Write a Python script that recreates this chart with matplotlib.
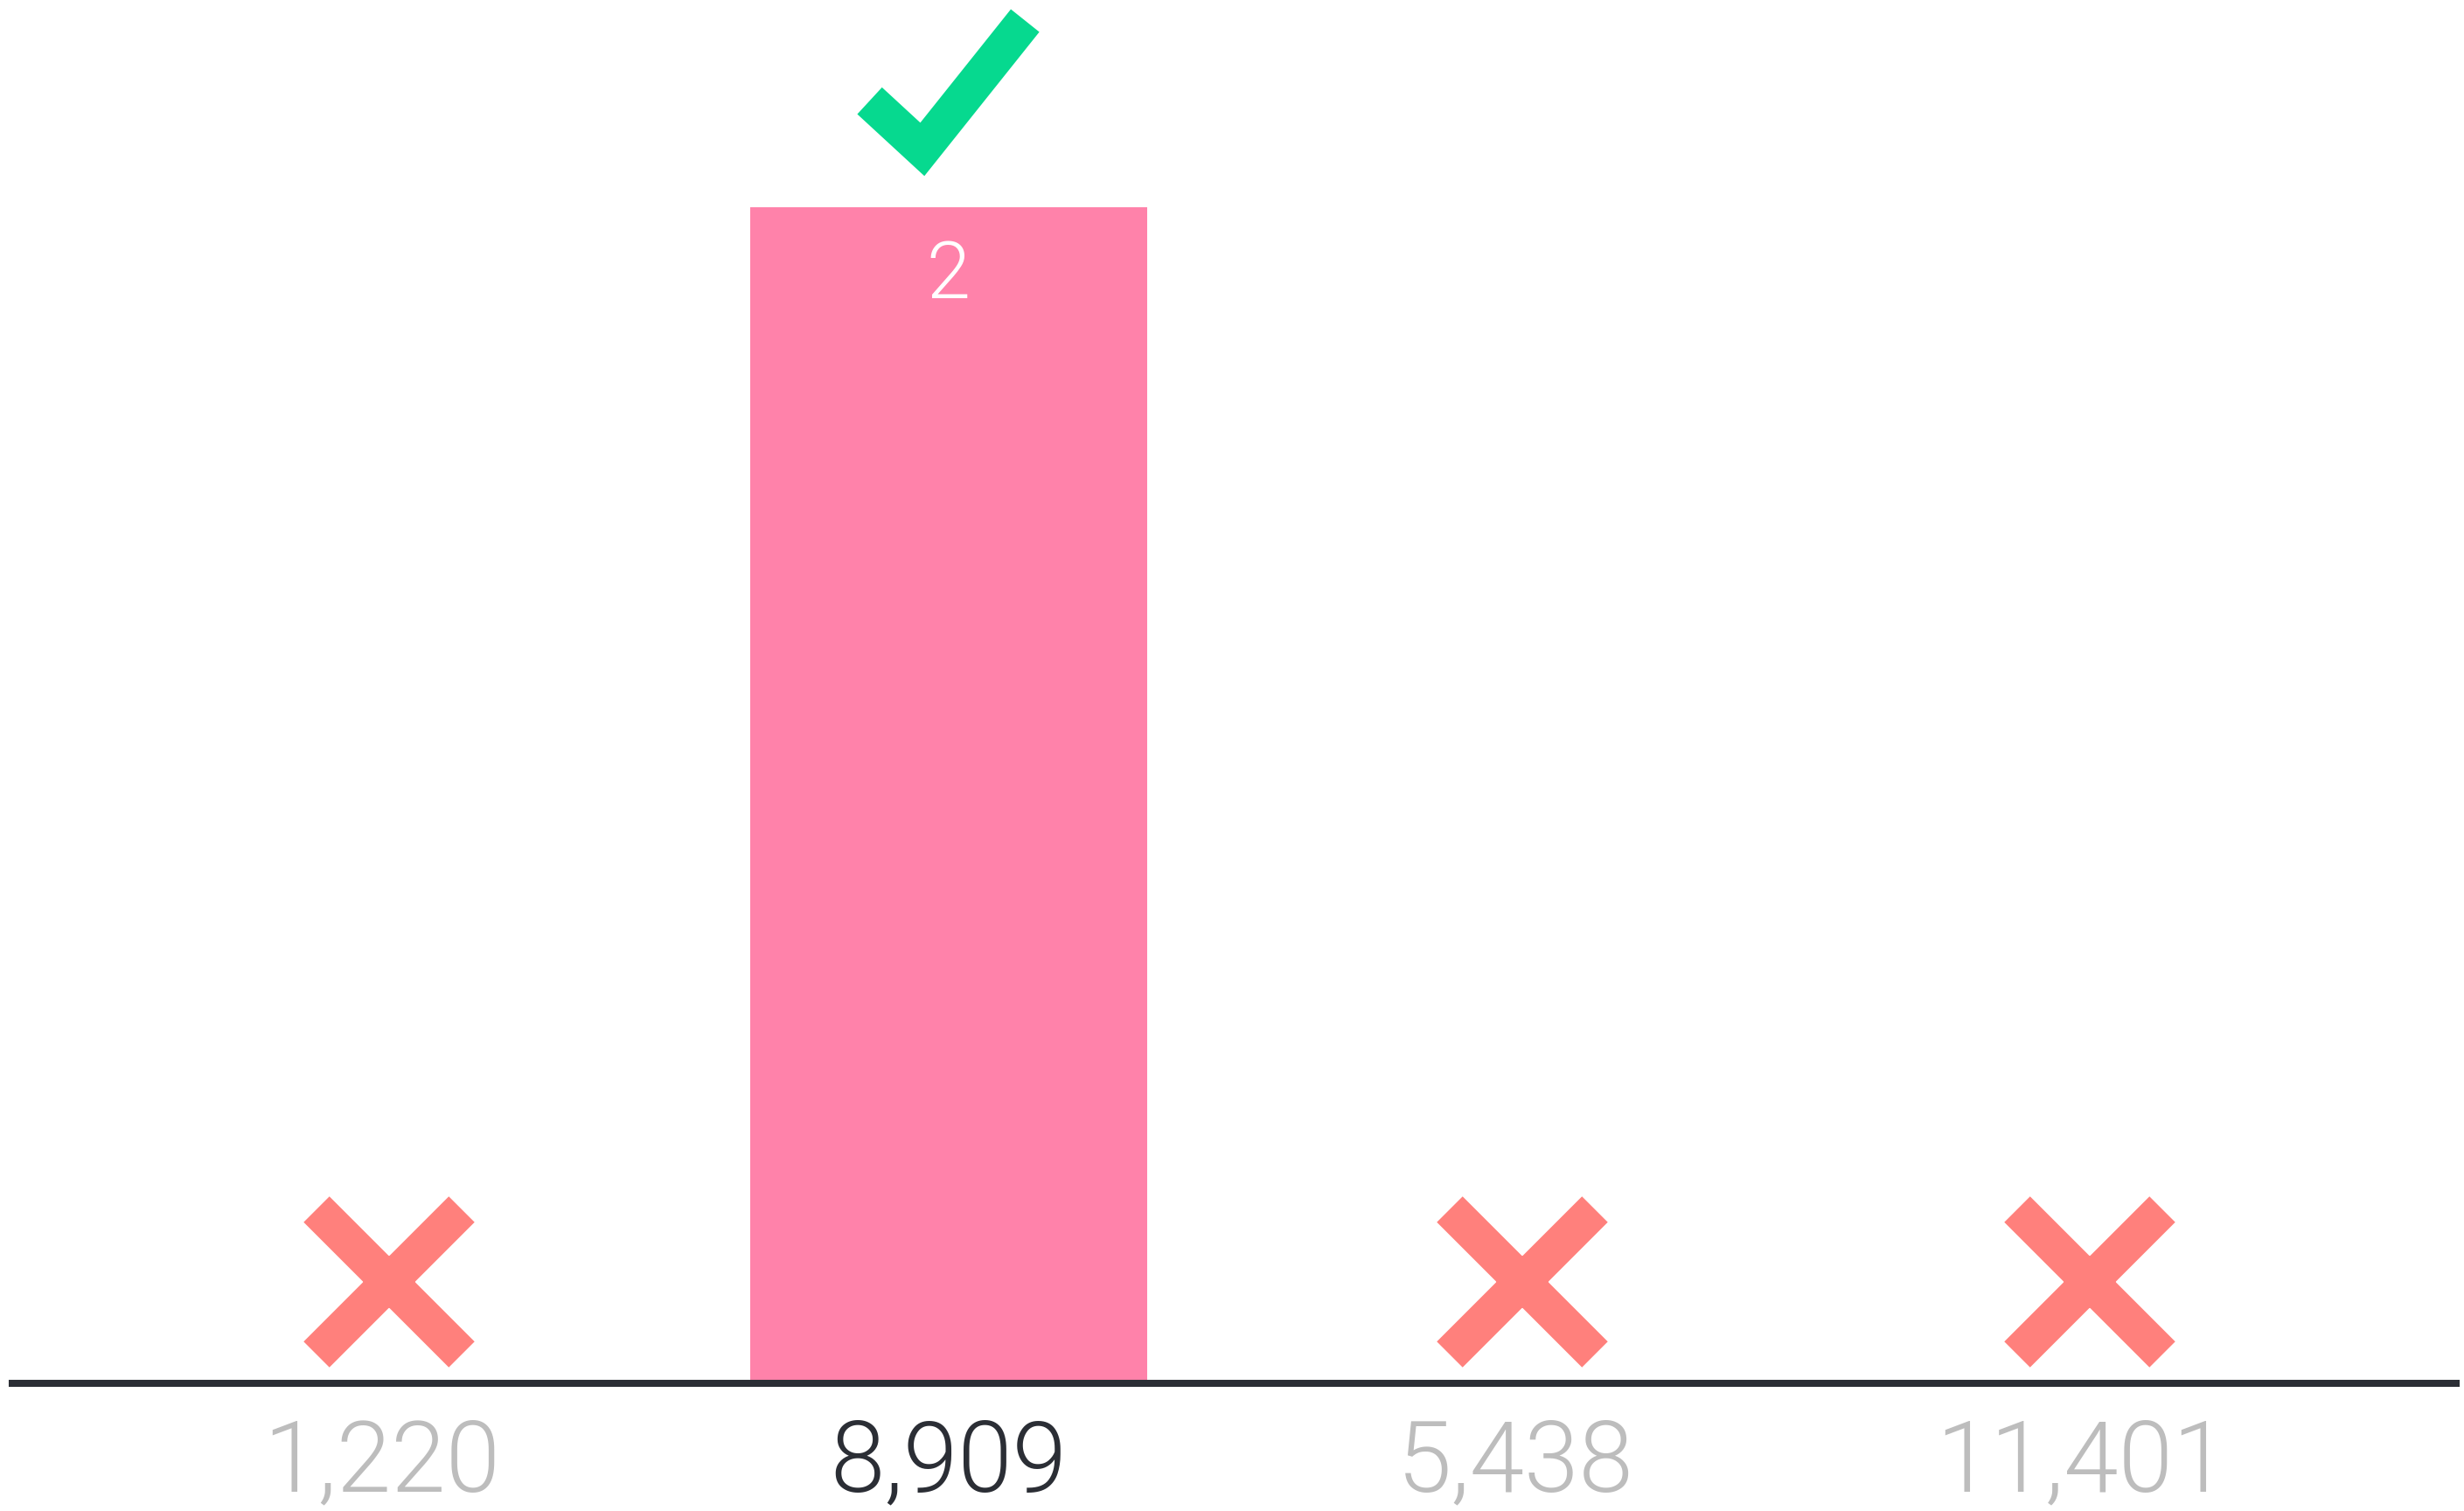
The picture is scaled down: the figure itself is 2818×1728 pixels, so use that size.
import matplotlib
matplotlib.use("Agg")
import matplotlib.pyplot as plt
import matplotlib.transforms as mtransforms
from matplotlib.path import Path
from matplotlib.patches import PathPatch

# Data
answers = ["1,220", "8,909", "5,438", "11,401"]
votes = [0, 2, 0, 0]
correct = 1

bar_color = "#FF82AA"
wrong_color = "#FF807C"
check_color = "#06D98F"
dark = "#2B2E35"
grey = "#BDBDBD"

plt.rcParams["font.family"] = ["Roboto", "DejaVu Sans"]

fig = plt.figure(figsize=(28.18, 17.28), dpi=100)
ax = fig.add_axes([0.005, 0.0845, 0.9918, 0.9155])

x = list(range(len(answers)))
bars = ax.bar(x, votes, width=0.70, color=bar_color, zorder=2)

ax.set_xlim(-0.652, 3.66)
ax.set_ylim(0, 2.352)

for s in ["top", "left", "right"]:
    ax.spines[s].set_visible(False)
ax.spines["bottom"].set_color(dark)
ax.spines["bottom"].set_linewidth(5.8)
ax.spines["bottom"].set_zorder(3)
ax.set_yticks([])
ax.set_xticks(x)
ax.set_xticklabels(answers, fontsize=81, fontweight=300)
ax.tick_params(axis="x", length=0, pad=28)
for i, lbl in enumerate(ax.get_xticklabels()):
    lbl.set_color(dark if i == correct else grey)

# value labels inside bars, X marks on empty answers
x_trans = mtransforms.offset_copy(ax.transData, fig=fig, x=6, y=83.5, units="points")
for i, v in enumerate(votes):
    if v > 0:
        ax.annotate(str(v), (i, v), xytext=(0, -57), textcoords="offset points",
                    ha="center", va="center", color="white", fontsize=65,
                    fontweight=300, zorder=4)
    else:
        ax.plot([i], [0], marker="x", ms=120, mew=30, color=wrong_color,
                transform=x_trans, zorder=4)

# check mark above the correct answer
anchor = mtransforms.ScaledTranslation(correct, votes[correct], ax.transData)
check_trans = mtransforms.Affine2D().scale(fig.dpi / 72.0) + anchor
check = Path([(-65.0, 87.5), (-21.6, 47.5), (63.0, 153.5)],
             [Path.MOVETO, Path.LINETO, Path.LINETO])
ax.add_patch(PathPatch(check, transform=check_trans, fill=False,
                       edgecolor=check_color, linewidth=30,
                       capstyle="butt", joinstyle="miter", clip_on=False))

fig.savefig("out.png", dpi=100, facecolor="white")
